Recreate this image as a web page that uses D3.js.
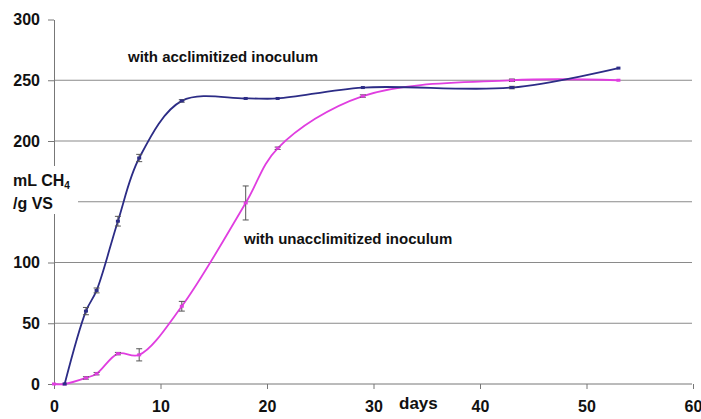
<!DOCTYPE html>
<html>
<head>
<meta charset="utf-8">
<script src="https://cdn.jsdelivr.net/npm/d3@7.9.0/dist/d3.min.js"></script>
<style>
  body { margin: 0; background: #fff; }
  text { font-family: "Liberation Sans", Arial, sans-serif; font-weight: bold; fill: #111; }
</style>
</head>
<body>
<svg id="chart" width="701" height="419"></svg>
<script>
// days sampled
const daysAccl = [1, 3, 4, 6, 8, 12, 18, 21, 29, 43, 53];
const accl = [0, 60, 77, 134, 186, 233, 235, 235, 244, 244, 260];
const acclErr = [0, 3, 2, 4, 3, 1, 0, 0, 0, 1, 0];

const daysUnac = [0, 1, 3, 4, 6, 8, 12, 18, 21, 29, 43, 53];
const unac = [0, 0, 5, 8.5, 25, 24, 64, 149, 194, 237, 250, 250];
const unacErr = [0, 0, 1, 1, 1, 5, 4, 14, 1, 1, 1, 0];

const xTicks = [0, 10, 20, 30, 40, 50, 60];
const yTicks = [0, 50, 100, 200, 250, 300]; // 150 sits under the axis title
const gridVals = [50, 100, 150, 200, 250];

const svg = d3.select('#chart');
const x = d3.scaleLinear().domain([0, 60]).range([54, 693]);
const y = d3.scaleLinear().domain([0, 300]).range([384, 19.5]);

// gridlines
svg.append('g')
    .selectAll('line')
    .data(gridVals)
    .join('line')
    .attr('x1', x(0)).attr('x2', 692)
    .attr('y1', d => y(d)).attr('y2', d => y(d))
    .attr('stroke', '#8a8a8a').attr('stroke-width', 1.2);

// y axis
let yAxis = svg.append('g')
    .attr('transform', `translate(${x(0)},0)`)
    .call(d3.axisLeft(y).tickValues(yTicks).tickSize(6).tickSizeOuter(0));
yAxis.select('.domain').attr('stroke', '#777');
yAxis.selectAll('.tick line').attr('stroke', '#777');
yAxis.selectAll('.tick text')
    .attr('x', -14)
    .attr('font-size', 16)
    .attr('font-family', '"Liberation Sans", Arial, sans-serif')
    .attr('font-weight', 'bold')
    .attr('fill', '#111');

// x axis
let xAxis = svg.append('g')
    .attr('transform', `translate(0,${y(0)})`)
    .call(d3.axisBottom(x).tickValues(xTicks).tickSize(5).tickSizeOuter(0));
xAxis.select('.domain').attr('stroke', '#777').attr('d', `M${x(0)},0H692`);
xAxis.selectAll('.tick line').attr('stroke', '#777');
xAxis.selectAll('.tick text')
    .attr('y', 17)
    .attr('font-size', 16)
    .attr('font-family', '"Liberation Sans", Arial, sans-serif')
    .attr('font-weight', 'bold')
    .attr('fill', '#111');

// y label with white box over the axis
svg.append('rect').attr('x', 0).attr('y', 166).attr('width', 78).attr('height', 48).attr('fill', '#fff');
let yl = svg.append('text').attr('x', 13).attr('y', 186).attr('font-size', 16);
yl.append('tspan').text('mL CH');
yl.append('tspan').text('4').attr('font-size', 10).attr('dy', 3);
svg.append('text').attr('x', 13).attr('y', 209).attr('font-size', 16).text('/g VS');

svg.append('text').attr('x', 399).attr('y', 409).attr('font-size', 17).text('days');

const line = d3.line().curve(d3.curveCatmullRom.alpha(0.5));

function drawSeries(days, vals, errs, color) {
    let pts = days.map((d, i) => [x(d), y(vals[i])]);
    svg.append('path')
        .attr('d', line(pts))
        .attr('fill', 'none')
        .attr('stroke', color)
        .attr('stroke-width', 1.8);

    days.forEach((d, i) => {
        if (errs[i] > 0) {
            let cx = x(d);
            let top = y(vals[i] + errs[i]);
            let bot = y(vals[i] - errs[i]);
            let g = svg.append('g').attr('stroke', '#555').attr('stroke-width', 1);
            g.append('line').attr('x1', cx).attr('x2', cx).attr('y1', top).attr('y2', bot);
            g.append('line').attr('x1', cx - 3).attr('x2', cx + 3).attr('y1', top).attr('y2', top);
            g.append('line').attr('x1', cx - 3).attr('x2', cx + 3).attr('y1', bot).attr('y2', bot);
        }
    });

    svg.append('g')
        .selectAll('rect')
        .data(pts)
        .join('rect')
        .attr('x', d => d[0] - 2).attr('y', d => d[1] - 1.5)
        .attr('width', 4).attr('height', 3)
        .attr('fill', color);
}

drawSeries(daysUnac, unac, unacErr, '#e03ee0');
drawSeries(daysAccl, accl, acclErr, '#2c2c86');

svg.append('text').attr('x', 128).attr('y', 62).attr('font-size', 15).text('with acclimitized inoculum');
svg.append('text').attr('x', 244).attr('y', 244).attr('font-size', 15).text('with unacclimitized inoculum');
</script>
</body>
</html>
